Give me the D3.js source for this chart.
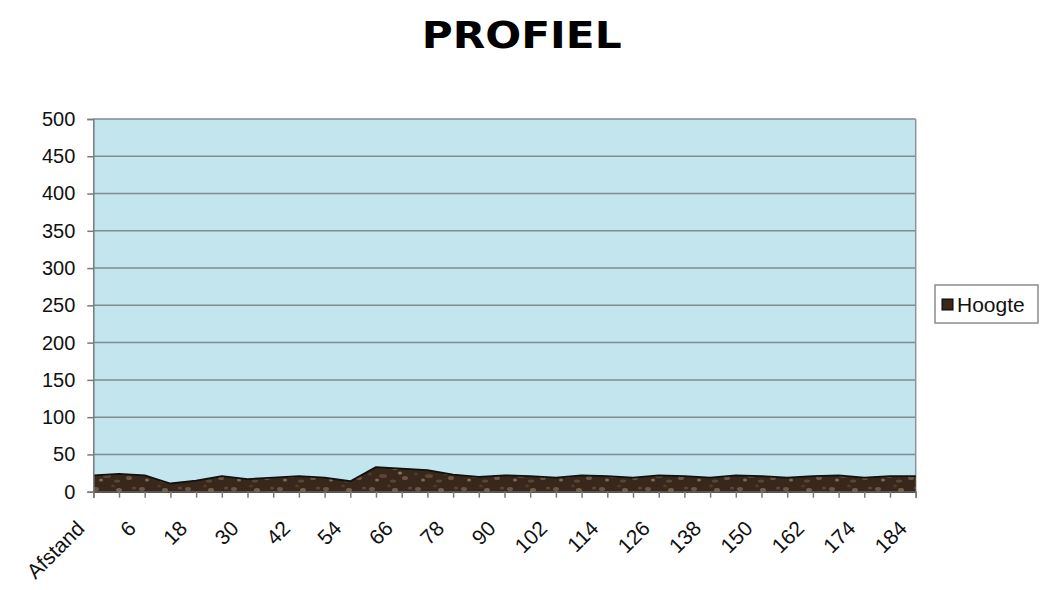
<!DOCTYPE html>
<html>
<head>
<meta charset="utf-8">
<script src="https://cdn.jsdelivr.net/npm/d3@7"></script>
<style>
  html, body { margin: 0; padding: 0; background: #ffffff; }
  svg { display: block; }
</style>
</head>
<body>
<svg id="chart" width="1050" height="590"></svg>
<script>
// ---- data ----
const categories = ["Afstand","0","6","12","18","24","30","36","42","48","54","60","66","72","78","84","90","96","102","108","114","120","126","132","138","144","150","156","162","168","174","180","184"];
const hoogte = [22,24,22,11,15,21,17,19,21,19,14,33,31,29,23,20,22,21,19,22,21,19,22,21,19,22,21,19,21,22,19,21,21];
const yTicks = [0,50,100,150,200,250,300,350,400,450,500];
const seriesName = "Hoogte";
const title = "PROFIEL";

// ---- layout ----
const svg = d3.select("#chart");
const pLeft = 93.3, pRight = 915.7, pTop = 119, pBottom = 491.7;
const font = "'Liberation Sans', Arial, sans-serif";

const x = d3.scalePoint().domain(categories).range([pLeft, pRight]).padding(0);
const y = d3.scaleLinear().domain([0, 500]).range([pBottom, pTop]);

// texture pattern for the soil fill
const defs = svg.append("defs");
const pat = defs.append("pattern").attr("id", "soil").attr("patternUnits", "userSpaceOnUse")
  .attr("width", 46).attr("height", 22);
pat.append("rect").attr("width", 46).attr("height", 22).attr("fill", "#3a271b");
const specks = [[4,5,3,2,"#6b5442"],[15,14,4,2,"#5c4534"],[27,6,3,2,"#75604d"],[37,16,3,2,"#6b5442"],[9,18,2,1.5,"#7d6856"],[21,2,2,1.5,"#4f3a2b"],[32,11,2,1.5,"#8a7563"],[42,4,2,1.5,"#5c4534"],[2,12,2,1.5,"#4f3a2b"],[25,19,3,1.5,"#5c4534"]];
specks.forEach(s => pat.append("ellipse").attr("cx", s[0]).attr("cy", s[1]).attr("rx", s[2]).attr("ry", s[3]).attr("fill", s[4]));

// plot background
svg.append("rect")
  .attr("x", x.range()[0]).attr("y", y.range()[1])
  .attr("width", x.range()[1] - x.range()[0]).attr("height", y.range()[0] - y.range()[1])
  .attr("fill", "#c3e5ee");

// gridlines
svg.append("g").selectAll("line").data(yTicks.filter(d => d > 0)).join("line")
  .attr("x1", pLeft).attr("x2", pRight)
  .attr("y1", d => y(d)).attr("y2", d => y(d))
  .attr("stroke", "#7f8c90").attr("stroke-width", 1.5);

// right border
svg.append("line").attr("x1", pRight).attr("x2", pRight).attr("y1", pTop).attr("y2", pBottom)
  .attr("stroke", "#8c9699").attr("stroke-width", 1.5);

// area
const data = categories.map((c, i) => ({c, v: hoogte[i]}));
svg.append("path").datum(data)
  .attr("d", d3.area().x(d => x(d.c)).y0(y(0)).y1(d => y(d.v)))
  .attr("fill", "url(#soil)");
svg.append("path").datum(data)
  .attr("d", d3.line().x(d => x(d.c)).y(d => y(d.v)))
  .attr("fill", "none").attr("stroke", "#111").attr("stroke-width", 1.8)
  .attr("stroke-linejoin", "round");

// y axis
const yAxis = svg.append("g").attr("transform", `translate(${pLeft},0)`)
  .call(d3.axisLeft(y).tickValues(yTicks).tickSize(6).tickPadding(12).tickFormat(d3.format("d")));
yAxis.select(".domain").attr("stroke", "#7a7a7a").attr("stroke-width", 1.5);
yAxis.selectAll(".tick line").attr("stroke", "#7a7a7a").attr("stroke-width", 1.5);
yAxis.selectAll(".tick text").attr("font-family", font).attr("font-size", 20).attr("fill", "#111");

// x axis
const xAxis = svg.append("g").attr("transform", `translate(0,${pBottom})`)
  .call(d3.axisBottom(x).tickSize(6).tickFormat((d, i) => i % 2 === 0 ? d : ""));
xAxis.select(".domain").attr("stroke", "#555").attr("stroke-width", 1.5);
xAxis.selectAll(".tick line").attr("stroke", "#7a7a7a").attr("stroke-width", 1.5);
xAxis.selectAll(".tick text")
  .attr("font-family", font).attr("font-size", 21).attr("fill", "#111")
  .attr("text-anchor", "end").attr("y", 0).attr("dy", 0)
  .attr("transform", "translate(-8,38) rotate(-45)");

// title
svg.append("text").attr("x", 521.7).attr("y", 47.5).attr("text-anchor", "middle")
  .attr("font-family", "'DejaVu Sans', Verdana, sans-serif").attr("font-weight", "bold")
  .attr("font-size", 37).attr("textLength", 200).attr("lengthAdjust", "spacingAndGlyphs")
  .attr("fill", "#000").text(title);

// legend
const lg = svg.append("g");
lg.append("rect").attr("x", 935).attr("y", 285).attr("width", 103).attr("height", 38)
  .attr("fill", "#fff").attr("stroke", "#8c8c8c").attr("stroke-width", 1.5);
lg.append("rect").attr("x", 942).attr("y", 299).attr("width", 11).attr("height", 11)
  .attr("fill", "#3a271b").attr("stroke", "#000").attr("stroke-width", 1);
lg.append("text").attr("x", 957).attr("y", 312).attr("font-family", font).attr("font-size", 21)
  .attr("fill", "#111").text(seriesName);
</script>
</body>
</html>
